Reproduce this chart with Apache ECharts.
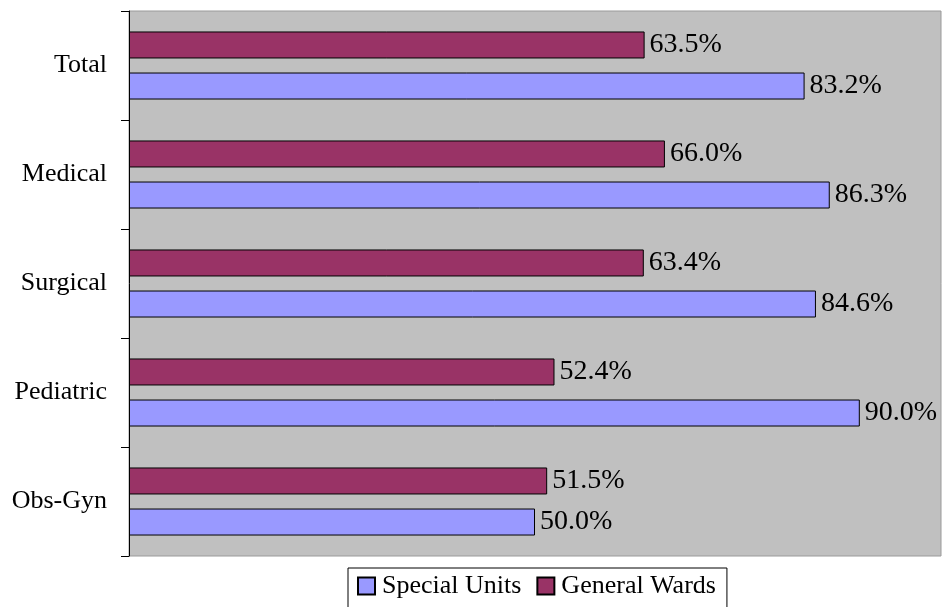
<!DOCTYPE html>
<html>
<head>
<meta charset="utf-8">
<script src="https://cdn.jsdelivr.net/npm/echarts@6/dist/echarts.min.js"></script>
<style>
  html, body { margin: 0; padding: 0; background: #fff; }
  #main { width: 943px; height: 607px; }
</style>
</head>
<body>
<div id="main"></div>
<script>
// categories, top to bottom
var categories = ['Total', 'Medical', 'Surgical', 'Pediatric', 'Obs-Gyn'];
var generalWards = [63.5, 66.0, 63.4, 52.4, 51.5];
var specialUnits = [83.2, 86.3, 84.6, 90.0, 50.0];

var chart = echarts.init(document.getElementById('main'));
var font = 'Liberation Serif, Times New Roman, serif';

function valueLabel() {
    return {
        show: true,
        position: 'right',
        distance: 5,
        color: '#000',
        fontFamily: font,
        fontSize: 28,
        formatter: function (p) { return p.value.toFixed(1) + '%'; }
    };
}

var option = {
    animation: false,
    backgroundColor: '#fff',
    grid: {
        left: 129, right: 2, top: 11, bottom: 51,
        show: true,
        backgroundColor: '#c0c0c0',
        borderColor: '#9a9a9a',
        borderWidth: 1
    },
    legend: {
        data: ['Special Units', 'General Wards'],
        left: 348, top: 568,
        padding: [5, 11, 14, 9],
        itemGap: 15,
        itemWidth: 17, itemHeight: 17,
        icon: 'rect',
        borderColor: '#000', borderWidth: 1,
        textStyle: { color: '#000', fontFamily: font, fontSize: 26, padding: [0, 0, 0, 2] }
    },
    xAxis: {
        type: 'value', min: 0, max: 100,
        show: false,
        splitLine: { show: false }
    },
    yAxis: {
        type: 'category',
        data: categories,
        inverse: true,
        axisLine: { show: true, lineStyle: { color: '#000', width: 1 } },
        axisTick: { show: true, inside: false, length: 8, lineStyle: { color: '#000', width: 1 } },
        axisLabel: { color: '#000', fontFamily: font, fontSize: 26, margin: 22 }
    },
    series: [
        {
            name: 'General Wards',
            type: 'bar',
            data: generalWards,
            barWidth: 27,
            barGap: '52%',
            itemStyle: { color: '#993366', borderColor: '#000', borderWidth: 1 },
            label: valueLabel()
        },
        {
            name: 'Special Units',
            type: 'bar',
            data: specialUnits,
            barWidth: 27,
            barGap: '52%',
            itemStyle: { color: '#9999ff', borderColor: '#000', borderWidth: 1 },
            label: valueLabel()
        }
    ]
};

chart.setOption(option);
</script>
</body>
</html>
